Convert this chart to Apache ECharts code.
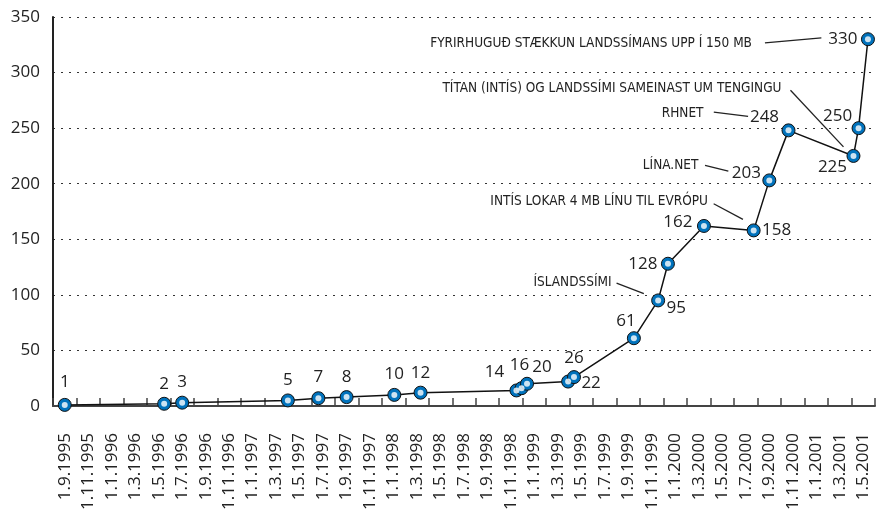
<!DOCTYPE html>
<html>
<head>
<meta charset="utf-8">
<script src="https://cdn.jsdelivr.net/npm/echarts@6/dist/echarts.min.js"></script>
<style>html,body{margin:0;padding:0;background:#fff}#c{width:879px;height:514px}</style>
</head>
<body>
<div id="c"></div>
<script>
// ---- data ----
const tickLabels = ['1.9.1995','1.11.1995',
  '1.1.1996','1.3.1996','1.5.1996','1.7.1996','1.9.1996','1.11.1996',
  '1.1.1997','1.3.1997','1.5.1997','1.7.1997','1.9.1997','1.11.1997',
  '1.1.1998','1.3.1998','1.5.1998','1.7.1998','1.9.1998','1.11.1998',
  '1.1.1999','1.3.1999','1.5.1999','1.7.1999','1.9.1999','1.11.1999',
  '1.1.2000','1.3.2000','1.5.2000','1.7.2000','1.9.2000','1.11.2000',
  '1.1.2001','1.3.2001','1.5.2001'];
const pointDates = ['1995-09-01','1996-05-15','1996-07-01','1997-04-01','1997-06-19','1997-09-01',
  '1998-01-03','1998-03-10','1998-11-15','1998-11-28','1998-12-12','1999-03-27','1999-04-12',
  '1999-09-15','1999-11-17','1999-12-12','2000-03-14','2000-07-21','2000-09-01','2000-10-20',
  '2001-04-06','2001-04-19','2001-05-13'];
const pointValues = [1,2,3,5,7,8,10,12,14,16,20,22,26,61,95,128,162,158,203,248,225,250,330];
const yTicks = [0,50,100,150,200,250,300,350];
const annotationTexts = [
  'FYRIRHUGUÐ STÆKKUN LANDSSÍMANS UPP Í 150 MB',
  'TÍTAN (INTÍS) OG LANDSSÍMI SAMEINAST UM TENGINGU',
  'RHNET',
  'LÍNA.NET',
  'INTÍS LOKAR 4 MB LÍNU TIL EVRÓPU',
  'ÍSLANDSSÍMI'
];
const annotationAnchors = [22, 20, 19, 18, 17, 14];

// ---- layout (label / annotation placement, pixels relative to point) ----
const labelOffsets = [[0,-23],[0,-20],[0,-21],[0,-20],[0,-21],[0,-20],[0,-21],[0,-20],
  [-22,-18],[-2,-23],[15,-17],[23,2],[0,-19],[-8,-17],[18,8],[-25,0],[-26,-4],[23,0],
  [-23,-7],[-24,-13],[-21,11],[-21,-12],[-25,0]];
const annotationLayout = [
  {tx:-116, ty:4, l:[-103,3.7,-46.6,-1.3]},
  {tx:-72, ty:-67, l:[-63,-65.7,-10,-9]},
  {tx:-85, ty:-16.7, l:[-74.7,-18.3,-40.4,-14]},
  {tx:-71, ty:-15.3, l:[-64.3,-15,-41,-9.3]},
  {tx:-45.7, ty:-29.3, l:[-40,-26.6,-10.7,-11]},
  {tx:-46.6, ty:-18.3, l:[-41.6,-17.3,-14.3,-6.7]}
];

function monthIndex(s){
  const [y,m,d] = s.split('-').map(Number);
  return (y-1995)*12 + (m-9) + (d-1)/30;
}
const numFont = "'Open Sans', 'Noto Sans', sans-serif";
const annFont = "'Liberation Sans Narrow', 'DejaVu Sans Condensed', sans-serif";

const seriesData = pointDates.map((d,i)=>({
  value:[monthIndex(d), pointValues[i]],
  label:{offset: labelOffsets[i]}
}));

const chart = echarts.init(document.getElementById('c'), null, {renderer:'canvas'});
chart.setOption({
  animation:false,
  backgroundColor:'#fff',
  grid:{left:53, right:4, top:17, bottom:108, containLabel:false},
  xAxis:[{
    type:'category', data:tickLabels, boundaryGap:true, gridIndex:0,
    axisLine:{show:true, onZero:false, lineStyle:{color:'#444', width:2}},
    axisTick:{show:true, inside:true, length:8, alignWithLabel:false, interval:0, lineStyle:{color:'#444', width:1.5}},
    axisLabel:{interval:0, rotate:90, margin:27, fontFamily:numFont, fontSize:17, color:'#222'},
    splitLine:{show:false}
  },{
    type:'value', min:-1, max:69, gridIndex:0, show:false
  }],
  yAxis:{
    type:'value', min:yTicks[0], max:yTicks[yTicks.length-1], interval:50,
    axisLine:{show:true, onZero:false, lineStyle:{color:'#222', width:2}},
    axisTick:{show:false},
    axisLabel:{margin:13, fontFamily:numFont, fontSize:17, color:'#222'},
    splitLine:{show:true, lineStyle:{color:'#333', width:1.2, type:[2,6]}}
  },
  series:[{
    type:'line', xAxisIndex:1, yAxisIndex:0, data:seriesData,
    lineStyle:{color:'#111', width:1.5},
    symbol:'circle', symbolSize:13,
    itemStyle:{color:'#0072BC', borderColor:'#111', borderWidth:1},
    label:{show:true, position:'inside', align:'center', verticalAlign:'middle',
      fontFamily:numFont, fontSize:17, color:'#222',
      formatter:p=>p.value[1]},
    z:3
  },{
    type:'scatter', xAxisIndex:1, yAxisIndex:0,
    data:pointDates.map((d,i)=>[monthIndex(d), pointValues[i]]),
    symbol:'circle', symbolSize:6, itemStyle:{color:'#fff'}, silent:true, z:4
  }]
});

function drawAnnotations(){
  const els = [];
  annotationTexts.forEach((t,i)=>{
    const a = annotationAnchors[i];
    const p = chart.convertToPixel({xAxisIndex:1, yAxisIndex:0}, [monthIndex(pointDates[a]), pointValues[a]]);
    const L = annotationLayout[i];
    els.push({type:'text', z:10, style:{text:t, x:p[0]+L.tx, y:p[1]+L.ty, align:'right', verticalAlign:'middle',
      fill:'#222', font:"13.5px " + annFont}});
    els.push({type:'line', z:10, shape:{x1:p[0]+L.l[0], y1:p[1]+L.l[1], x2:p[0]+L.l[2], y2:p[1]+L.l[3]},
      style:{stroke:'#222', lineWidth:1.3}});
  });
  chart.setOption({graphic:els});
}
drawAnnotations();
</script>
</body>
</html>
